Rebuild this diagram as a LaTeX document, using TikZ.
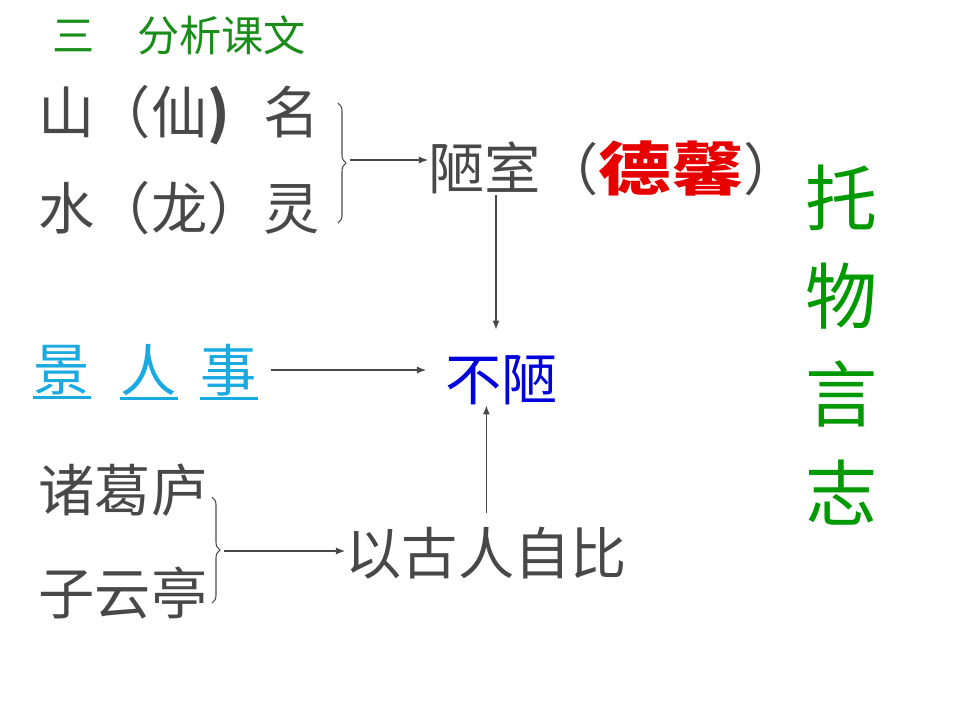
\documentclass[tikz,border=0pt]{standalone}
\usepackage{fontspec}
\setmainfont{Noto Sans CJK SC}
\usetikzlibrary{arrows.meta,decorations.pathreplacing}
\definecolor{wordgray}{RGB}{72,72,72}
\definecolor{titlegreen}{RGB}{25,140,25}
\definecolor{biggreen}{RGB}{0,153,0}
\definecolor{skyblue}{RGB}{25,170,225}
\definecolor{deepblue}{RGB}{0,0,220}
\definecolor{hotred}{RGB}{230,0,0}
\tikzset{
  word/.style={inner sep=0pt,anchor=west,text=wordgray,font=\fontsize{16pt}{18pt}\selectfont},
  link/.style={draw=wordgray,line width=0.3pt,-{Latex[length=0.09cm,width=0.07cm]}},
  bracket/.style={draw=wordgray,line width=0.3pt,decorate,decoration={brace,amplitude=0.08cm}},
}
\begin{document}
\begin{tikzpicture}[x=0.01cm,y=-0.01cm]
\useasboundingbox (0,0) rectangle (960,720);
\node[anchor=west,inner sep=0pt,text=titlegreen,font=\fontsize{12pt}{14pt}\selectfont] (title) at (52,35) {三\quad 分析课文};
% mountain and water
\node[word] (shan) at (38,115) {山（仙\textbf{)}\hspace{0.6em}名};
\node[word] (shui) at (38,208) {水（龙）灵};
\coordinate (b1top) at (338,103);
\coordinate (b1bot) at (338,223);
\coordinate (b1tip) at (350,160);
\draw[bracket] (b1top) -- (b1bot);
\node[word] (lou) at (428,168) {陋室};
\node[word] (dexin) at (lou.east) {（\scalebox{1.25}[1]{\fontsize{16.5pt}{18pt}\selectfont\textcolor{hotred}{\textbf{德馨}}}）};
\draw[link] (b1tip) -- (b1tip -| lou.west);
% not humble
\node[word,text=deepblue] (bulou) at (445,380) {不陋};
\draw[link] ([xshift=0.11cm]lou.south) -- ([xshift=0.11cm,yshift=0.25cm]lou.south |- bulou.north);
\node[word,text=skyblue] (jing) at (33,370) {景};
\node[word,text=skyblue] (ren) at (120,370) {人};
\node[word,text=skyblue] (shi) at (200,370) {事};
\foreach \w in {jing,ren,shi}
  \draw[skyblue,line width=0.9pt] ([yshift=-0.02cm]\w.south west) -- ([yshift=-0.02cm]\w.south east);
\coordinate (shiend) at ([xshift=0.13cm]shi.east);
\draw[link] (shiend) -- ([xshift=-0.19cm]shiend -| bulou.west);
% ancients
\node[word] (zhuge) at (38,490) {诸葛庐};
\node[word] (ziyun) at (38,593) {子云亭};
\coordinate (b2top) at (212,497);
\coordinate (b2bot) at (212,603);
\coordinate (b2tip) at (224,551);
\draw[bracket] (b2top) -- (b2bot);
\node[word] (yi) at (345,553) {以古人自比};
\draw[link] (b2tip) -- (b2tip -| yi.west);
\draw[link] ([yshift=0.13cm]yi.north) -- (yi.north |- bulou.south);
% vertical label
\node[inner sep=0pt,align=center,text=biggreen,font=\fontsize{20.5pt}{27.9pt}\selectfont] (tuowu) at (842,345) {托\\物\\言\\志};
\end{tikzpicture}
\end{document}
